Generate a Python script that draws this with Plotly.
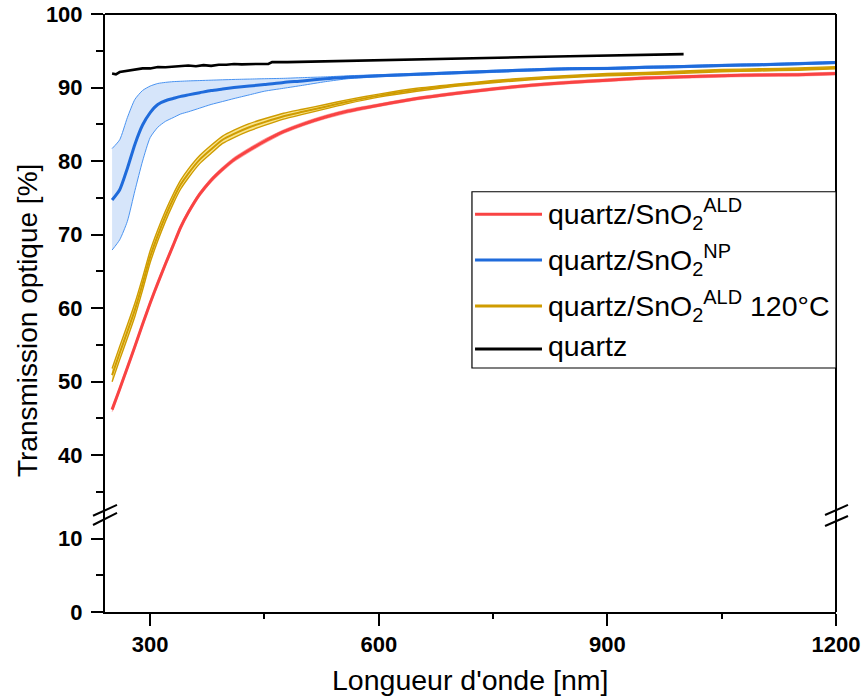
import plotly.graph_objects as go

# ---------------- data ----------------
wl = [250, 260, 270, 280, 290, 300, 310, 320, 330, 340, 350, 365, 380, 395, 410, 430, 450,
      475, 500, 530, 560, 600, 650, 700, 750, 800, 850, 900, 950, 1000, 1050, 1100, 1150, 1200]

t_ald = [46.2, 49.0, 51.9, 54.8, 57.8, 60.7, 63.4, 66.0, 68.5, 71.0, 73.0, 75.5, 77.4, 78.9, 80.2, 81.5, 82.7,
         84.0, 85.0, 86.0, 86.8, 87.6, 88.5, 89.2, 89.8, 90.3, 90.7, 91.0, 91.3, 91.45, 91.6, 91.7, 91.75, 91.9]
e_ald = [0.3, 0.3, 0.3, 0.3, 0.3, 0.3, 0.3, 0.3, 0.3, 0.3, 0.3, 0.3, 0.3, 0.3, 0.3, 0.3, 0.3,
         0.25, 0.25, 0.25, 0.25, 0.2, 0.2, 0.2, 0.2, 0.2, 0.2, 0.2, 0.2, 0.2, 0.2, 0.2, 0.2, 0.2]

t_np = [74.7, 76.1, 79.0, 82.3, 84.9, 86.6, 87.7, 88.2, 88.5, 88.8, 89.0, 89.3, 89.6, 89.8, 90.0, 90.2, 90.4,
        90.7, 90.9, 91.2, 91.4, 91.6, 91.8, 92.0, 92.2, 92.4, 92.55, 92.6, 92.75, 92.85, 93.0, 93.1, 93.25, 93.4]
np_hi = [81.7, 82.9, 85.9, 88.4, 89.6, 90.2, 90.55, 90.7, 90.8, 90.85, 90.9, 90.95, 91.0, 91.05, 91.1, 91.15, 91.2,
         91.25, 91.35, 91.45, 91.6, 91.75, 91.95, 92.15, 92.35, 92.55, 92.7, 92.75, 92.9, 93.0, 93.15, 93.25, 93.4, 93.55]
np_lo = [67.9, 69.3, 71.8, 76.0, 80.0, 83.2, 84.6, 85.4, 85.9, 86.4, 86.7, 87.2, 87.7, 88.1, 88.5, 89.0, 89.5,
         89.9, 90.3, 90.8, 91.2, 91.45, 91.65, 91.85, 92.05, 92.25, 92.4, 92.45, 92.6, 92.7, 92.85, 92.95, 93.1, 93.25]

t_ald120 = [50.9, 53.9, 56.8, 59.8, 63.3, 67.0, 69.9, 72.5, 74.8, 76.8, 78.3, 80.2, 81.6, 82.9, 83.7, 84.6, 85.3,
            86.1, 86.7, 87.4, 88.1, 88.9, 89.7, 90.3, 90.8, 91.2, 91.5, 91.75, 91.9, 92.1, 92.3, 92.4, 92.5, 92.7]
e_ald120 = [0.9, 0.9, 0.9, 0.9, 0.85, 0.8, 0.75, 0.7, 0.65, 0.6, 0.6, 0.55, 0.55, 0.5, 0.5, 0.5, 0.45,
            0.4, 0.35, 0.3, 0.25, 0.2, 0.2, 0.15, 0.15, 0.15, 0.15, 0.15, 0.15, 0.15, 0.15, 0.15, 0.15, 0.15]

wl_q = [250, 255, 260, 270, 280, 290, 300, 310, 320, 330, 340, 350, 360, 370, 380, 390, 400, 410, 420,
        430, 440, 455, 460, 480, 500, 550, 600, 650, 700, 750, 800, 850, 900, 950, 1000]
t_q = [91.9, 91.8, 92.1, 92.3, 92.4, 92.6, 92.6, 92.8, 92.75, 92.85, 92.9, 93.0, 92.9, 93.05, 92.95, 93.1, 93.1, 93.2,
       93.15, 93.2, 93.2, 93.2, 93.45, 93.45, 93.5, 93.6, 93.7, 93.8, 93.95, 94.05, 94.15, 94.25, 94.35, 94.45, 94.55]

legend_labels = ["quartz/SnO<sub>2</sub><sup>ALD</sup>",
                 "quartz/SnO<sub>2</sub><sup>NP</sup>",
                 "quartz/SnO<sub>2</sub><sup>ALD</sup> 120°C",
                 "quartz"]
colors = ["#F94343", "#1F6BDB", "#CF9C00", "#000000"]

x_ticks = [300, 600, 900, 1200]
y_low_range = [0, 13.24]
y_up_range = [31.9, 100]
x_range = [240.7, 1200]
brk = 0.1626

FONT = "Liberation Sans, Arial, sans-serif"

fig = go.Figure()

# invisible helper so the lower (broken) axis segment is drawn
fig.add_trace(go.Scatter(x=[x_range[0]], y=[y_low_range[0]], mode="markers", marker=dict(opacity=0),
                         xaxis="x", yaxis="y", showlegend=False, hoverinfo="skip"))

def band(x, lo, hi, line_col, fill_col, w):
    fig.add_trace(go.Scatter(x=x, y=lo, mode="lines", line=dict(color=line_col, width=w, shape="spline", smoothing=0.6),
                             xaxis="x", yaxis="y2", showlegend=False, hoverinfo="skip"))
    fig.add_trace(go.Scatter(x=x, y=hi, mode="lines", line=dict(color=line_col, width=w, shape="spline", smoothing=0.6),
                             fill="tonexty", fillcolor=fill_col,
                             xaxis="x", yaxis="y2", showlegend=False, hoverinfo="skip"))

# red band + line
band(wl, [v - e for v, e in zip(t_ald, e_ald)], [v + e for v, e in zip(t_ald, e_ald)],
     "rgba(249,67,67,0.35)", "rgba(249,110,110,0.45)", 1)
fig.add_trace(go.Scatter(x=wl, y=t_ald, mode="lines", line=dict(color=colors[0], width=3, shape="spline", smoothing=0.6),
                         xaxis="x", yaxis="y2", showlegend=False))

# blue band + line
band(wl, np_lo, np_hi, "#4A93F0", "rgba(120,170,240,0.30)", 1)
fig.add_trace(go.Scatter(x=wl, y=t_np, mode="lines", line=dict(color=colors[1], width=3, shape="spline", smoothing=0.6),
                         xaxis="x", yaxis="y2", showlegend=False))

# gold band + line
band(wl, [v - e for v, e in zip(t_ald120, e_ald120)], [v + e for v, e in zip(t_ald120, e_ald120)],
     "#CF9C00", "#F8E48E", 1.4)
fig.add_trace(go.Scatter(x=wl, y=t_ald120, mode="lines", line=dict(color=colors[2], width=2, shape="spline", smoothing=0.6),
                         xaxis="x", yaxis="y2", showlegend=False))

# quartz
fig.add_trace(go.Scatter(x=wl_q, y=t_q, mode="lines", line=dict(color=colors[3], width=2.6),
                         xaxis="x", yaxis="y2", showlegend=False))

tickfont = dict(family=FONT, size=22, color="black", weight="bold")
common_axis = dict(showgrid=False, zeroline=False, showline=True, linecolor="black", linewidth=2,
                   ticks="outside", ticklen=12, tickwidth=2, tickcolor="black", tickfont=tickfont,
                   automargin=False)

fig.update_layout(
    template="none",
    width=864, height=699,
    margin=dict(l=105, r=28, t=14, b=87, autoexpand=False),
    plot_bgcolor="white", paper_bgcolor="white",
    showlegend=False,
    xaxis=dict(range=x_range, tickvals=x_ticks, anchor="y", ticklabelstandoff=0,
               minor=dict(dtick=150, tick0=0, ticks="outside", ticklen=5, tickwidth=2, tickcolor="black"),
               **common_axis),
    yaxis=dict(domain=[0, brk], range=y_low_range, tickvals=[0, 10], anchor="x", ticklabelstandoff=4,
               minor=dict(tickvals=[5], ticks="outside", ticklen=7, tickwidth=2, tickcolor="black"),
               **common_axis),
    yaxis2=dict(domain=[brk, 1], range=y_up_range, dtick=10, tick0=0, anchor="x", ticklabelstandoff=4,
                minor=dict(dtick=5, tick0=0, ticks="outside", ticklen=7, tickwidth=2, tickcolor="black"),
                **common_axis),
)

shapes = [
    dict(type="line", xref="paper", yref="paper", x0=0, x1=1, y0=1, y1=1, line=dict(color="black", width=2)),
    dict(type="line", xref="paper", yref="paper", x0=1, x1=1, y0=0, y1=1, line=dict(color="black", width=2)),
    # axis breaks
    dict(type="line", xref="paper", yref="paper", x0=-0.0164, x1=0.0164, y0=0.161, y1=0.179, line=dict(color="black", width=2)),
    dict(type="line", xref="paper", yref="paper", x0=-0.0164, x1=0.0164, y0=0.1455, y1=0.1656, line=dict(color="black", width=2)),
    dict(type="line", xref="paper", yref="paper", x0=0.985, x1=1.0164, y0=0.1622, y1=0.179, line=dict(color="black", width=2)),
    dict(type="line", xref="paper", yref="paper", x0=0.985, x1=1.0164, y0=0.1438, y1=0.1605, line=dict(color="black", width=2)),
    # legend box
    dict(type="rect", xref="paper", yref="paper", x0=0.502, x1=1.0, y0=0.408, y1=0.7028,
         line=dict(color="black", width=1.2), fillcolor="white", layer="above"),
]

annotations = [
    dict(text="Longueur d'onde [nm]", xref="paper", yref="paper", x=0.4993, y=-0.1137, showarrow=False,
         xanchor="center", yanchor="middle", font=dict(family=FONT, size=28.5, color="black")),
    dict(text="Transmission optique [%]", xref="paper", yref="paper", x=-0.1067, y=0.4866, showarrow=False,
         textangle=-90, xanchor="center", yanchor="middle", font=dict(family=FONT, size=28, color="black")),
]

row_y = [0.665, 0.5886, 0.5117, 0.4398]
text_y = [0.665, 0.5886, 0.5117, 0.4448]
for lab, col, yy, ty in zip(legend_labels, colors, row_y, text_y):
    shapes.append(dict(type="line", xref="paper", yref="paper", x0=0.5062, x1=0.5978, y0=yy, y1=yy,
                       line=dict(color=col, width=3), layer="above"))
    annotations.append(dict(text=lab, xref="paper", yref="paper", x=0.6030, y=ty, showarrow=False,
                            xanchor="left", yanchor="middle", font=dict(family=FONT, size=28.5, color="black")))

fig.update_layout(shapes=shapes, annotations=annotations)
fig.write_html("out.html", config={"displayModeBar": False},
               post_script="document.body.style.margin='0';")
